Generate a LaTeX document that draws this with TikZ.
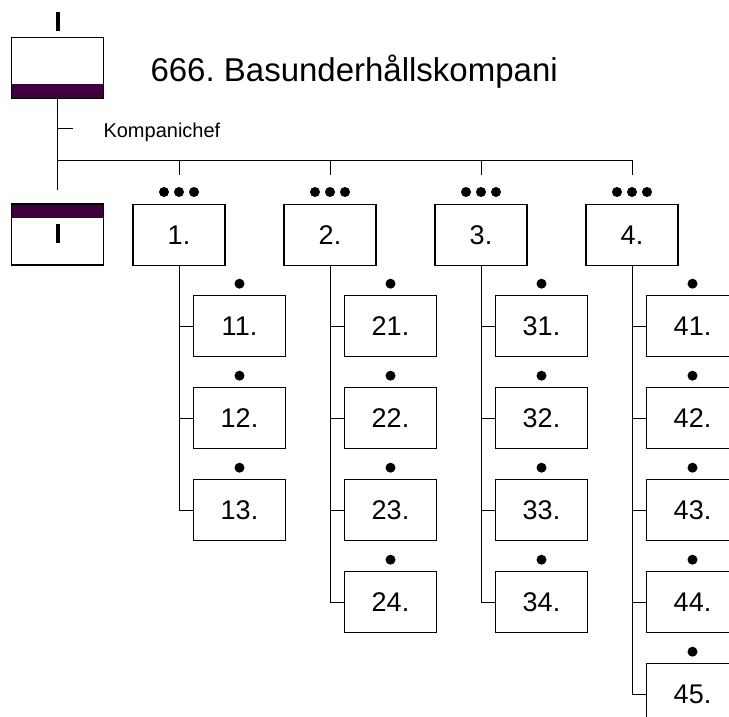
\documentclass[tikz,border=0pt]{standalone}
\usepackage{fontspec}
\setmainfont{Liberation Sans}
\definecolor{lila}{RGB}{64,0,64}
\frenchspacing

\begin{document}
\begin{tikzpicture}
  [x=1pt,y=-1pt,
   box/.style={draw,line width=1.6pt,minimum width=92pt,minimum height=61pt,inner sep=0pt,
     text height=19pt,text depth=0pt,font=\fontsize{27}{27}\selectfont},
   bandlow/.style={box,path picture={\fill[lila] (path picture bounding box.south west)
     rectangle ([yshift=14pt]path picture bounding box.south east);}},
   bandhigh/.style={box,path picture={\fill[lila] (path picture bounding box.north west)
     rectangle ([yshift=-14pt]path picture bounding box.north east);}},
   dot/.style={circle,fill,inner sep=0pt,minimum size=10pt},
   line/.style={line width=1pt}]
  \useasboundingbox (0,0) rectangle (729,717);
  \clip (0,0) rectangle (729,717);
  % staff
  \node[bandlow] (hq) at (57.5,68) {};
  \draw[line width=4pt] ([yshift=6pt]hq.north) -- ([yshift=25pt]hq.north);
  \node[anchor=base west,font=\fontsize{33}{33}\selectfont] (title) at (147,82) {666. Basunderhållskompani};
  \node[anchor=base west,font=\fontsize{20}{20}\selectfont] (chef) at (100,137) {Kompanichef};
  \node[bandhigh] (stab) at (57.5,234.5) {};
  \draw[line width=4pt] ([yshift=-21pt]stab.north) -- ([yshift=-40pt]stab.north);
  \coordinate (stem) at (57.5,190);
  \coordinate (tick) at (57.5,128);
  \coordinate (bus) at (57.5,160);
  \coordinate (busend) at (632,160);
  \draw[line] (hq.south) -- (stem);
  \draw[line] (tick) -- ++(15,0);
  \draw[line] (bus) -- (busend);
  % platoons
  \foreach \i/\x/\n in {1/179/3,2/330/4,3/481/4,4/632/5}{
    \node[box] (p\i) at (\x,235) {\i.};
    \node[dot] (pa\i) at (\x-15,192) {};
    \node[dot] (pb\i) at (\x,192) {};
    \node[dot] (pc\i) at (\x+15,192) {};
    \coordinate (drop\i) at (\x,175);
    \draw[line] (\x,160) -- (drop\i);
    \foreach \j in {1,...,\n}{
      \pgfmathsetmacro{\yy}{326+(\j-1)*92}
      \node[box] (c\i\j) at (\x+60.5,\yy) {\i\j.};
      \node[dot] (d\i\j) at ([yshift=11pt]c\i\j.north) {};
      \draw[line] (p\i.south |- c\i\j.west) -- (c\i\j.west);
    }
    \draw[line] (p\i.south) -- (p\i.south |- c\i\n.west);
  }
\end{tikzpicture}
\end{document}
